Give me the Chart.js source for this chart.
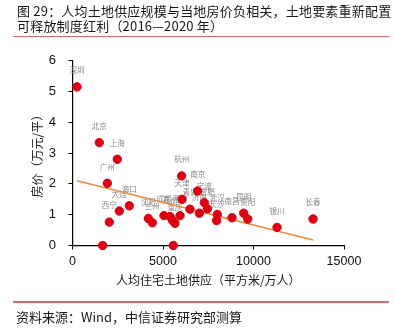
<!DOCTYPE html>
<html>
<head>
<meta charset="utf-8">
<script src="https://cdn.jsdelivr.net/npm/chart.js@4/dist/chart.umd.min.js"></script>
<style>
  html, body { margin:0; padding:0; background:#fff; }
  #wrap { position:relative; width:394px; height:336px; overflow:hidden; }
  canvas { position:absolute; left:0; top:0; }
  .txt { position:absolute; font-family:"Noto Sans CJK SC","Liberation Sans",sans-serif; color:#1a1a1a; white-space:nowrap; }
  .rule { position:absolute; left:13px; width:376px; height:1.5px; background:#e06a6a; }
</style>
</head>
<body>
<div id="wrap">
  <canvas id="c" width="394" height="336"></canvas>
  <div class="txt" style="left:17px;top:3px;font-size:13px;line-height:15px;letter-spacing:0.2px;">图 29：人均土地供应规模与当地房价负相关，土地要素重新配置<br>可释放制度红利（2016—2020 年）</div>
  <div class="rule" style="top:35.5px;"></div>
  <div class="rule" style="top:301px;"></div>
  <div class="txt" style="left:16px;top:308.5px;font-size:13px;line-height:15px;">资料来源：Wind，中信证券研究部测算</div>
</div>
<script>
// ---- data ----
const cities = ['深圳','北京','上海','广州','杭州','海口','大连','西宁','','沈阳','兰州','成都','郑州','','重庆','西安','天津','','青岛','南京','济南','宁波','合肥','武汉','长沙','南昌','昆明','贵阳','银川','长春'];
const landSupply = [250,1480,2475,1925,6030,3140,2586,2033,1668,4190,4410,5055,5387,5535,5663,5940,6050,5570,6492,6917,7007,7285,7450,8000,7963,8813,9458,9680,11300,13290];
const housePrice = [5.15,3.34,2.80,2.02,2.26,1.29,1.12,0.76,0.00,0.88,0.74,0.97,0.94,0.81,0.72,0.97,1.50,0.00,1.18,1.77,1.05,1.39,1.19,1.01,0.81,0.90,1.05,0.86,0.59,0.86];
const trendX = [250, 13290];
const trendY = [2.10, 0.18];
const xTicks = [0, 5000, 10000, 15000];
const yTicks = [0, 1, 2, 3, 4, 5, 6];

const points = landSupply.map((x, i) => ({ x: x, y: housePrice[i] }));
const trend = trendX.map((x, i) => ({ x: x, y: trendY[i] }));

const labelPlugin = {
  id: 'pointLabels',
  beforeDatasetsDraw(chart) {
    const meta = chart.getDatasetMeta(1);
    const ctx = chart.ctx;
    ctx.save();
    ctx.font = '7.5px "Noto Sans CJK SC", sans-serif';
    ctx.fillStyle = '#888888';
    ctx.textAlign = 'center';
    ctx.textBaseline = 'middle';
    meta.data.forEach((el, i) => {
      if (cities[i]) ctx.fillText(cities[i], el.x, el.y - 16.5);
    });
    ctx.restore();
  }
};

const numFont = { family: '"Liberation Sans", Arial, sans-serif', size: 12.5 };
const cjkFont = { family: '"Noto Sans CJK SC", sans-serif', size: 12 };

new Chart(document.getElementById('c'), {
  type: 'scatter',
  data: {
    datasets: [
      {
        type: 'line',
        label: '趋势线',
        data: trend,
        borderColor: '#f0883a',
        borderWidth: 1.5,
        pointRadius: 0,
        fill: false,
        order: 2
      },
      {
        label: '房价',
        data: points,
        backgroundColor: '#de0012',
        borderColor: '#de0012',
        pointRadius: 4.2,
        pointHoverRadius: 4.2,
        clip: false,
        order: 1
      }
    ]
  },
  options: {
    responsive: false,
    animation: false,
    events: [],
    layout: { padding: { left: 0, top: 60.7, right: 50, bottom: 41 } },
    plugins: { legend: { display: false }, tooltip: { enabled: false } },
    scales: {
      x: {
        type: 'linear',
        min: 0, max: 15000,
        afterFit(s) { s.height = 49.5; },
        afterBuildTicks(s) { s.ticks = xTicks.map(v => ({ value: v })); },
        ticks: { color: '#111', font: numFont, padding: 4.7, maxRotation: 0, callback: v => String(v) },
        grid: { display: true, drawOnChartArea: false, drawTicks: true, tickLength: 4, color: '#000', lineWidth: 1 },
        border: { display: true, color: '#000', width: 1.2 },
        title: { display: true, text: '人均住宅土地供应（平方米/万人）', color: '#1a1a1a', font: cjkFont, padding: { top: 0, bottom: 7.8 } }
      },
      y: {
        type: 'linear',
        min: 0, max: 6,
        afterFit(s) { s.width = 72.5; },
        afterBuildTicks(s) { s.ticks = yTicks.map(v => ({ value: v })); },
        ticks: { color: '#111', font: { family: numFont.family, size: 13 }, padding: 12.5, callback: v => String(v) },
        grid: { display: true, drawOnChartArea: false, drawTicks: true, tickLength: 4, color: '#000', lineWidth: 1 },
        border: { display: true, color: '#000', width: 1.2 },
        title: { display: true, text: '房价（万元/平）', color: '#1a1a1a', font: cjkFont, padding: { top: 30.5, bottom: 0 } }
      }
    }
  },
  plugins: [labelPlugin]
});
</script>
</body>
</html>
